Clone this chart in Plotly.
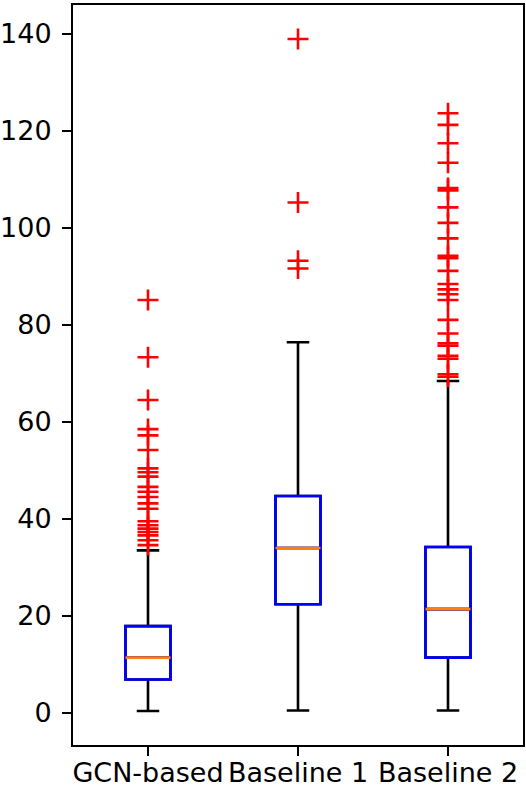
import plotly.graph_objects as go

categories = ["GCN-based", "Baseline 1", "Baseline 2"]
positions = [1, 2, 3]
q1 = [6.9, 22.4, 11.4]
median = [11.4, 34.0, 21.4]
q3 = [17.9, 44.7, 34.2]
lower_whisker = [0.4, 0.5, 0.5]
upper_whisker = [33.5, 76.4, 68.4]

gcn_outliers = [85.1, 73.3, 64.5, 58.5, 57.2, 54.2, 50.4, 49.6, 48.7, 46.6, 45.6,
                44.5, 43.2, 42.1, 39.5, 38.7, 38.0, 37.3, 36.6, 35.6, 34.6]
b1_outliers = [138.9, 105.2, 93.2, 91.6]
b2_outliers = [123.6, 121.2, 117.4, 113.4, 108.2, 107.7, 104.2, 101.0, 97.8, 94.2,
               93.7, 91.1, 88.4, 87.3, 86.3, 85.1, 81.0, 78.2, 76.2, 75.7, 73.6,
               73.0, 69.8, 69.3]

yticks = [0, 20, 40, 60, 80, 100, 120, 140]

FONT = "DejaVu Sans"
FS = 27
LW = 2.6

fig = go.Figure()

# whiskers + caps (black)
fig.add_trace(go.Box(
    x=positions, q1=q1, median=median, q3=q3,
    lowerfence=lower_whisker, upperfence=upper_whisker,
    width=0.3, whiskerwidth=0.5, boxpoints=False,
    line=dict(color="black", width=LW), fillcolor="rgba(0,0,0,0)",
    showlegend=False, hoverinfo="skip"))
# box (blue)
fig.add_trace(go.Box(
    x=positions, q1=q1, median=median, q3=q3,
    lowerfence=q1, upperfence=q3,
    width=0.3, whiskerwidth=0, boxpoints=False,
    line=dict(color="#0000ff", width=LW), fillcolor="rgba(0,0,0,0)",
    showlegend=False, hoverinfo="skip"))
# median (orange)
fig.add_trace(go.Box(
    x=positions, q1=median, median=median, q3=median,
    lowerfence=median, upperfence=median,
    width=0.3, whiskerwidth=0, boxpoints=False,
    line=dict(color="#ff7f0e", width=LW), fillcolor="rgba(0,0,0,0)",
    showlegend=False, hoverinfo="skip"))

# fliers
out_x = []
out_y = []
for pos, vals in zip(positions, [gcn_outliers, b1_outliers, b2_outliers]):
    out_x += [pos] * len(vals)
    out_y += vals
fig.add_trace(go.Scatter(
    x=out_x, y=out_y, mode="markers",
    marker=dict(symbol="cross-thin", size=15, line=dict(color="red", width=LW), color="red"),
    showlegend=False, hoverinfo="skip"))

fig.update_layout(
    width=526, height=789,
    margin=dict(l=73, r=3, t=5, b=44),
    paper_bgcolor="white", plot_bgcolor="white",
    boxmode="overlay",
    font=dict(family=FONT, size=FS, color="black"),
)
fig.update_xaxes(
    range=[0.5, 3.5], tickvals=positions, ticktext=categories,
    showline=True, linecolor="black", linewidth=2, mirror=True,
    ticks="outside", ticklen=9, tickwidth=2, tickcolor="black",
    showgrid=False, zeroline=False, tickangle=0, automargin=False,
    ticklabelstandoff=-6,
    tickfont=dict(family=FONT, size=FS, color="black"))
fig.update_yaxes(
    range=[-6.6, 145.9], tickvals=yticks,
    showline=True, linecolor="black", linewidth=2, mirror=True,
    ticks="outside", ticklen=9, tickwidth=2, tickcolor="black",
    showgrid=False, zeroline=False, automargin=False,
    ticklabelstandoff=5,
    tickfont=dict(family=FONT, size=FS, color="black"))

fig.write_html(
    "out.html",
    config={"displayModeBar": False},
    post_script="document.body.style.margin='0';document.body.style.overflow='hidden';",
)
